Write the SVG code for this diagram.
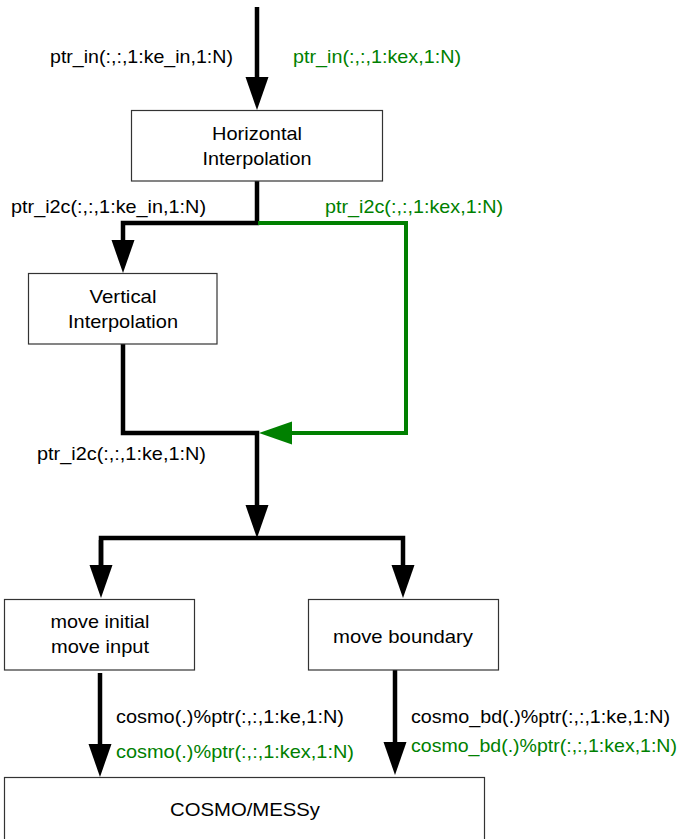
<svg xmlns="http://www.w3.org/2000/svg" width="684" height="839" viewBox="0 0 684 839">
<style>
text{font-family:"Liberation Sans",Arial,sans-serif;font-size:19px;fill:#000}
.g{fill:#008000}
.m{text-anchor:middle}
.box{fill:#fff;stroke:#333;stroke-width:1.2}
.k{fill:none;stroke:#000;stroke-width:4.5}
.gr{fill:none;stroke:#008000;stroke-width:4}
</style>
<defs>
<marker id="ak" markerUnits="userSpaceOnUse" markerWidth="34" markerHeight="24" refX="13" refY="11.5" orient="auto"><path d="M0,0 L33,11.5 L0,23 z" fill="#000"/></marker>
<marker id="ag" markerUnits="userSpaceOnUse" markerWidth="34" markerHeight="24" refX="13" refY="11.5" orient="auto"><path d="M0,0 L33,11.5 L0,23 z" fill="#008000"/></marker>
</defs>
<g id="connectors">
<path class="k" d="M257,7 V90" marker-end="url(#ak)"/>
<path class="k" d="M257,181 V223 H123 V253" marker-end="url(#ak)"/>
<path class="gr" d="M258,223 H406 V433 H279" marker-end="url(#ag)"/>
<path class="k" d="M123,344 V433 H257 V518" marker-end="url(#ak)"/>
<path class="k" d="M101,578 V538 H403 V578" marker-end="url(#ak)"/>
<path class="k" d="M101,540 V578" marker-end="url(#ak)"/>
<path class="k" d="M100,673 V757" marker-end="url(#ak)"/>
<path class="k" d="M395,670 V755" marker-end="url(#ak)"/>
</g>
<g id="labels">
<text x="50" y="63" textLength="183" lengthAdjust="spacingAndGlyphs">ptr_in(:,:,1:ke_in,1:N)</text>
<text class="g" x="293" y="63" textLength="168" lengthAdjust="spacingAndGlyphs">ptr_in(:,:,1:kex,1:N)</text>
<text x="11" y="213" textLength="195" lengthAdjust="spacingAndGlyphs">ptr_i2c(:,:,1:ke_in,1:N)</text>
<text class="g" x="325" y="213" textLength="178" lengthAdjust="spacingAndGlyphs">ptr_i2c(:,:,1:kex,1:N)</text>
<text x="37" y="460" textLength="169" lengthAdjust="spacingAndGlyphs">ptr_i2c(:,:,1:ke,1:N)</text>
<text x="116" y="723" textLength="228" lengthAdjust="spacingAndGlyphs">cosmo(.)%ptr(:,:,1:ke,1:N)</text>
<text class="g" x="116" y="758" textLength="238" lengthAdjust="spacingAndGlyphs">cosmo(.)%ptr(:,:,1:kex,1:N)</text>
<text x="411" y="723" textLength="259" lengthAdjust="spacingAndGlyphs">cosmo_bd(.)%ptr(:,:,1:ke,1:N)</text>
<text class="g" x="411" y="752" textLength="266" lengthAdjust="spacingAndGlyphs">cosmo_bd(.)%ptr(:,:,1:kex,1:N)</text>
</g>
<g id="horizontal">
<rect class="box" x="131.5" y="110.5" width="251" height="70.5"/>
<text class="m" x="257" y="140" textLength="90" lengthAdjust="spacingAndGlyphs">Horizontal</text>
<text class="m" x="257" y="165" textLength="109" lengthAdjust="spacingAndGlyphs">Interpolation</text>
</g>
<g id="vertical">
<rect class="box" x="28.5" y="273.5" width="188.5" height="70.5"/>
<text class="m" x="123" y="303" textLength="67" lengthAdjust="spacingAndGlyphs">Vertical</text>
<text class="m" x="123" y="328" textLength="110" lengthAdjust="spacingAndGlyphs">Interpolation</text>
</g>
<g id="moveinitial">
<rect class="box" x="4.5" y="599.5" width="190" height="70.5"/>
<text class="m" x="100" y="628" textLength="99" lengthAdjust="spacingAndGlyphs">move initial</text>
<text class="m" x="100" y="653" textLength="98" lengthAdjust="spacingAndGlyphs">move input</text>
</g>
<g id="moveboundary">
<rect class="box" x="308.5" y="599.5" width="190" height="70.5"/>
<text class="m" x="403" y="643" textLength="140" lengthAdjust="spacingAndGlyphs">move boundary</text>
</g>
<g id="cosmo">
<rect class="box" x="4.5" y="777.5" width="480" height="75"/>
<text class="m" x="245" y="816" textLength="150" lengthAdjust="spacingAndGlyphs">COSMO/MESSy</text>
</g>
</svg>
